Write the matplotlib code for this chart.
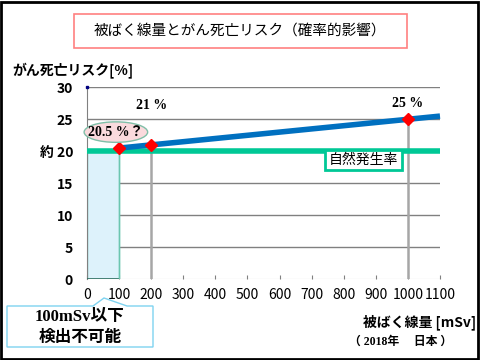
import matplotlib
matplotlib.use("Agg")
import matplotlib.pyplot as plt
from matplotlib.patches import Rectangle, Ellipse, Polygon

plt.rcParams['font.family'] = ['Noto Sans CJK JP', 'DejaVu Sans']

# data
line_dose = [100, 200, 1000, 1100]
line_risk = [20.5, 21.0, 25.0, 25.5]
mark_dose = [100, 200, 1000]
mark_risk = [20.5, 21.0, 25.0]
natural_rate = 20
x_ticks = list(range(0, 1101, 100))
y_ticks = [0, 5, 10, 15, 20, 25, 30]
y_labels = ['0', '5', '10', '15', '約 20', '25', '30']

W, H = 480, 360
fig = plt.figure(figsize=(4.8, 3.6), dpi=100)


def fx(px):
    return px / W


def fy(py):
    return 1 - py / H


ax = fig.add_axes([fx(87), fy(279.3), fx(440) - fx(87), fy(87.3) - fy(279.3)])
ax.set_xlim(0, 1100)
ax.set_ylim(0, 30)
for s in ['top', 'right', 'bottom']:
    ax.spines[s].set_visible(False)
ax.spines['left'].set_color('#808080')

# horizontal grid
for y in y_ticks[1:]:
    ax.axhline(y, color='#808080', lw=1, zorder=1)
ax.axhline(0, color='#c0c0c0', lw=0.8, zorder=1)

# shaded undetectable region
ax.add_patch(Rectangle((0, 0), 100, natural_rate, facecolor='#ddf2fb',
                       edgecolor='#6cc6b0', lw=1, zorder=2))
ax.plot([0, 100], [0, 0], color='#2f6f60', lw=1.2, zorder=3)

# vertical drop lines
ax.vlines(100, 0, mark_risk[0], color='#6cc6b0', lw=1, zorder=3)
ax.vlines(mark_dose[1:], 0, mark_risk[1:], color='#a6a6a6', lw=1.8, zorder=3)

# natural rate and risk line
ax.plot([0, 1100], [natural_rate, natural_rate], color='#00c896', lw=4,
        solid_capstyle='butt', zorder=4, clip_on=False)
ax.plot(line_dose, line_risk, color='#0070c0', lw=4, solid_capstyle='butt',
        zorder=5, clip_on=False)
ax.plot(mark_dose, mark_risk, 'D', color='#ff0000', ms=6, zorder=6, clip_on=False)
ax.plot([0], [30], 's', color='#000080', ms=1.5, zorder=6, clip_on=False)

ax.set_xticks(x_ticks)
ax.set_yticks(y_ticks)
ax.set_yticklabels(y_labels)
ax.tick_params(axis='y', length=0, pad=10, labelsize=10)
ax.tick_params(axis='x', direction='in', length=3, color='#808080',
               pad=6, labelsize=10)
for lab in ax.get_yticklabels():
    lab.set_fontweight('bold')

# labels on points
serif = ['Liberation Serif', 'Noto Sans CJK JP']
ax.text(200, 27.1, '21 %', ha='center', va='center', fontsize=10,
        fontweight='bold', family=serif)
ax.text(1000, 27.4, '25 %', ha='center', va='center', fontsize=10,
        fontweight='bold', family=serif)
ax.add_patch(Ellipse((90, 23.0), 198, 3.2, facecolor='#fadadd',
                     edgecolor='#7fbfa8', lw=1, zorder=7, clip_on=False))
ax.text(90, 23.0, '20.5 %？', ha='center', va='center', fontsize=10,
        fontweight='bold', family=serif, zorder=8)

# natural rate label
fig.patches.append(Rectangle((fx(325), fy(170)), fx(402) - fx(325), fy(150) - fy(170),
                             transform=fig.transFigure, facecolor='white',
                             edgecolor='#00c896', lw=2, zorder=10))
fig.text(fx(363.5), fy(160), '自然発生率', ha='center', va='center', fontsize=10, zorder=11)

# title box
fig.patches.append(Rectangle((fx(74), fy(48)), fx(407) - fx(74), fy(14) - fy(48),
                             transform=fig.transFigure, facecolor='white',
                             edgecolor='#ff8080', lw=1.2))
fig.text(fx(240), fy(31), '被ばく線量とがん死亡リスク（確率的影響）',
         ha='center', va='center', fontsize=10.5)

fig.text(fx(12), fy(70), 'がん死亡リスク[%]', ha='left', va='center',
         fontsize=10, fontweight='bold')
fig.text(fx(476), fy(322), '被ばく線量 [mSv]', ha='right', va='center',
         fontsize=10, fontweight='bold')
fig.text(fx(452), fy(342), '（ 2018年　 日本 ）', ha='right', va='center',
         fontsize=8.5, fontweight='bold', family=serif)

# callout
pts = [(7, 306), (93, 306), (104, 298), (127, 306), (153, 306), (153, 347), (7, 347)]
fig.patches.append(Polygon([(fx(px), fy(py)) for px, py in pts], closed=True,
                           transform=fig.transFigure, facecolor='white',
                           edgecolor='#7fd3f0', lw=1))
fig.text(fx(80), fy(317), '100mSv以下', ha='center', va='center', fontsize=12,
         fontweight='bold', family=serif)
fig.text(fx(80), fy(337), '検出不可能', ha='center', va='center', fontsize=12,
         fontweight='bold')

# outer frame
fig.patches.append(Rectangle((0.002, 0.003), 0.994, 0.992, transform=fig.transFigure,
                             fill=False, edgecolor='black', lw=2))

fig.savefig('out.png', dpi=100)
